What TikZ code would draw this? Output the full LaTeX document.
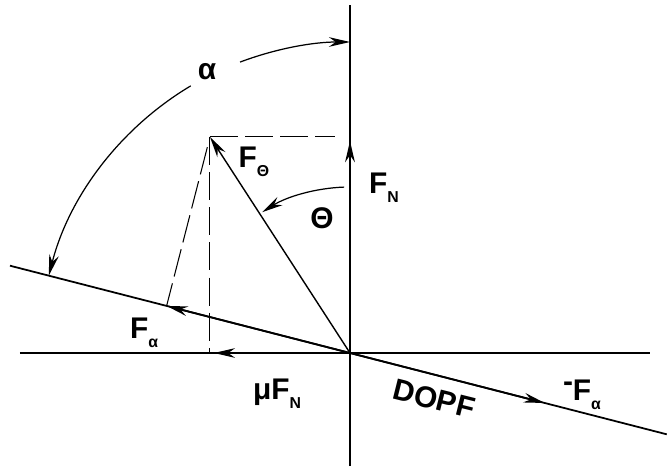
\documentclass[tikz,border=0pt]{standalone}
\usepackage{fontspec}
\setmainfont{Liberation Sans}
\usetikzlibrary{arrows.meta}
\newcommand{\lowr}[1]{\raisebox{-0.55ex}{\small #1}}
\begin{document}
\begin{tikzpicture}[scale=0.02, >={Stealth[length=12pt,width=5.5pt]},
    lbl/.style={font=\fontsize{17}{20}\selectfont\bfseries, inner sep=1pt},
    proj/.style={dash pattern=on 16pt off 4pt, line width=0.6pt}]
    \useasboundingbox (-350,-117) rectangle (317,353);

    % Assi
    \coordinate (O) at (0,0);
    \coordinate (top) at (0,348);
    \coordinate (bot) at (0,-113);
    \coordinate (left) at (-330,0);
    \coordinate (right) at (300,0);
    \draw[line width=1.6pt] (bot) -- (top);
    \draw[line width=0.6pt] (left) -- (right);

    % Piano inclinato
    \coordinate (dl) at (165.6:351);
    \coordinate (dr) at (-14.4:327);
    \draw[line width=1pt] (dl) -- (dr);

    % Forze
    \coordinate (P) at (-140,216);
    \coordinate (FN) at (0,212);
    \coordinate (Fa) at (165.6:189.3);
    \coordinate (mFa) at (-14.4:201);
    \coordinate (muFN) at (-136,0);
    \draw[->, line width=0.8pt] (O) -- (P);
    \draw[->, line width=1.6pt] (O) -- (FN);
    \draw[->, line width=1pt] (O) -- (Fa);
    \draw[->, line width=1pt] (O) -- (mFa);
    \draw[->, line width=0.6pt] (O) -- (muFN);

    % Componenti (tratteggiate)
    \coordinate (Pv) at (-15,216);
    \coordinate (Pb) at (-140,0);
    \draw[proj] (P) -- (Pv);
    \draw[proj] (P) -- (Pb);
    \draw[proj, shorten <=6pt] (P) -- (Fa);

    % Angoli
    \draw[<-, line width=0.7pt] (90:311) arc[start angle=90, end angle=110.7, radius=311];
    \draw[->, line width=0.7pt] (120.8:311) arc[start angle=120.8, end angle=165.6, radius=311];
    \draw[->, line width=0.7pt] (92:166) arc[start angle=92, end angle=122, radius=166];

    % Etichette
    \node[lbl] (alpha) at (-143,281) {α};
    \node[lbl] (Ftheta) at (-96,191) {F\lowr{Θ}};
    \node[lbl] (theta) at (-28,135) {Θ};
    \node[lbl] (FNl) at (34,165) {F\lowr{N}};
    \node[lbl] (Fal) at (-206,20) {F\lowr{α}};
    \node[lbl] (muFNl) at (-73,-41) {μF\lowr{N}};
    \node[lbl, rotate=-14] (dopf) at (84,-46) {DOPF};
    \node[lbl] (mFal) at (232,-42) {\raisebox{0.6ex}{-}F\lowr{α}};
\end{tikzpicture}
\end{document}
